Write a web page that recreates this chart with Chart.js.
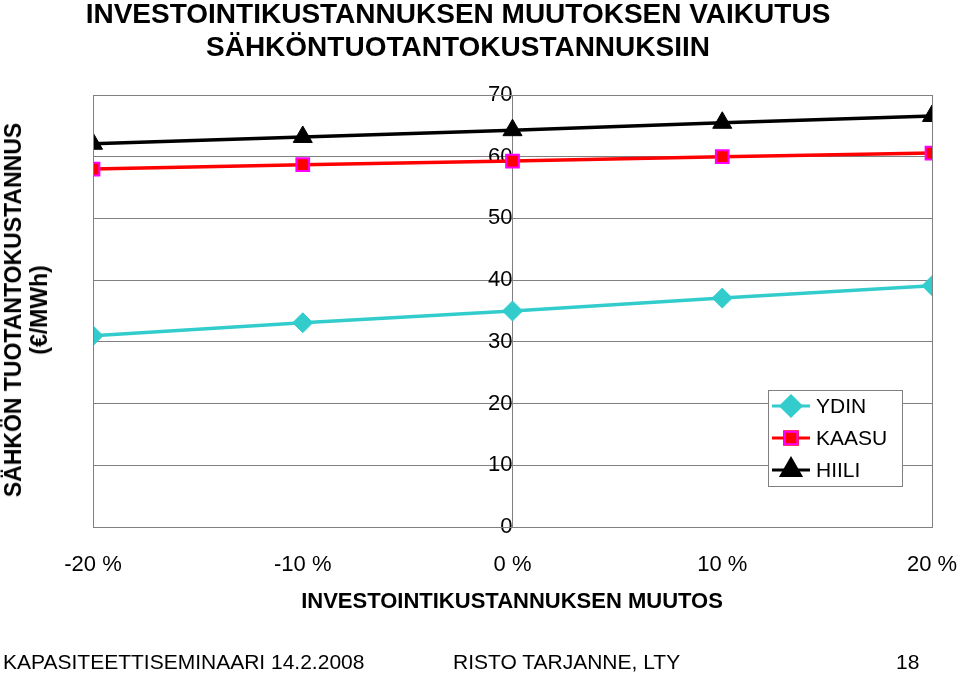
<!DOCTYPE html>
<html><head><meta charset="utf-8">
<script src="https://cdn.jsdelivr.net/npm/chart.js@4"></script>
<style>
body{margin:0;background:#fff;font-family:"Liberation Sans",Arial,sans-serif}
#wrap{position:relative;width:960px;height:674px}
.t{position:absolute;white-space:nowrap;color:#000}
</style></head><body>
<div id="wrap">
<canvas id="c" width="960" height="674"></canvas>
<div class="t" style="left:0;width:916px;top:-3px;text-align:center;font-weight:bold;font-size:28px;line-height:33px">INVESTOINTIKUSTANNUKSEN MUUTOKSEN VAIKUTUS<br>SÄHKÖNTUOTANTOKUSTANNUKSIIN</div>
<div class="t" style="left:26px;top:310px;transform:translate(-50%,-50%) rotate(-90deg);text-align:center;font-weight:bold;font-size:23px;line-height:26px">SÄHKÖN TUOTANTOKUSTANNUS<br>(€/MWh)</div>
<div class="t" style="left:512px;top:601px;transform:translate(-50%,-50%);font-weight:bold;font-size:22px">INVESTOINTIKUSTANNUKSEN MUUTOS</div>
<div class="t" style="left:3px;top:650px;font-size:21px">KAPASITEETTISEMINAARI 14.2.2008</div>
<div class="t" style="left:453px;top:650px;font-size:21px">RISTO TARJANNE, LTY</div>
<div class="t" style="left:896px;top:650px;font-size:21px">18</div>
</div>
<script>
const changes = [-20, -10, 0, 10, 20];
const ydin = [31.0, 33.1, 35.0, 37.1, 39.1];
const kaasu = [58.0, 58.7, 59.3, 60.0, 60.6];
const hiili = [62.1, 63.2, 64.3, 65.5, 66.6];
const yTicks = [0, 10, 20, 30, 40, 50, 60, 70];

const pts = vals => changes.map((x, i) => ({x: x, y: vals[i]}));
const FONT = '"Liberation Sans", Arial, sans-serif';

// plot frame + legend box
const extras = {
  id: 'extras',
  afterDraw(chart) {
    const ctx = chart.ctx, a = chart.chartArea;
    ctx.save();
    ctx.strokeStyle = '#808080'; ctx.lineWidth = 1;
    ctx.strokeRect(a.left + 0.5, a.top + 0.5, a.right - a.left, a.bottom - a.top);
    const lx = 768, ly = 390, lw = 134, lh = 96;
    ctx.fillStyle = '#fff'; ctx.fillRect(lx, ly, lw, lh);
    ctx.strokeStyle = '#808080'; ctx.strokeRect(lx + 0.5, ly + 0.5, lw, lh);
    ctx.font = '21px ' + FONT;
    ctx.textBaseline = 'middle';
    chart.data.datasets.forEach((ds, i) => {
      const y = 406 + i * 32;
      ctx.strokeStyle = ds.borderColor; ctx.lineWidth = 3;
      ctx.beginPath(); ctx.moveTo(772, y); ctx.lineTo(810, y); ctx.stroke();
      Chart.helpers.drawPoint(ctx, {pointStyle: ds.pointStyle, radius: ds.pointRadius, borderWidth: ds.pointBorderWidth}, 791, y);
      ctx.fillStyle = ds.pointBackgroundColor; ctx.strokeStyle = ds.pointBorderColor;
      ctx.lineWidth = ds.pointBorderWidth;
      ctx.fill(); ctx.stroke();
      ctx.fillStyle = '#000'; ctx.fillText(ds.label, 816, y + 1);
    });
    ctx.restore();
  }
};

new Chart(document.getElementById('c'), {
  type: 'line',
  data: {
    datasets: [
      {label: 'YDIN', data: pts(ydin), borderColor: '#33CCCC', borderWidth: 3.5,
       pointStyle: 'rectRot', pointRadius: 10, pointBackgroundColor: '#33CCCC', pointBorderColor: '#33CCCC', pointBorderWidth: 1},
      {label: 'KAASU', data: pts(kaasu), borderColor: '#FF0000', borderWidth: 3.5,
       pointStyle: 'rect', pointRadius: 9, pointBackgroundColor: '#FF0000', pointBorderColor: '#FF00FF', pointBorderWidth: 2},
      {label: 'HIILI', data: pts(hiili), borderColor: '#000000', borderWidth: 3.5,
       pointStyle: 'triangle', pointRadius: 11, pointBackgroundColor: '#000000', pointBorderColor: '#000000', pointBorderWidth: 1}
    ]
  },
  options: {
    responsive: false, animation: false,
    layout: {padding: {left: 93, right: 28, top: 95, bottom: 97}},
    plugins: {legend: {display: false}, tooltip: {enabled: false}},
    scales: {
      x: {
        type: 'linear', min: -20, max: 20,
        afterBuildTicks: s => { s.ticks = changes.map(v => ({value: v})); },
        afterFit: s => { s.height = 50; s.paddingLeft = 0; s.paddingRight = 0; },
        grid: {display: false, drawTicks: false},
        border: {color: '#808080'},
        ticks: {padding: 25, maxRotation: 0, color: '#000',
          font: {size: 22, family: FONT},
          callback: v => v + ' %'}
      },
      y: {
        position: {x: 0}, min: 0, max: 70,
        afterBuildTicks: s => { s.ticks = yTicks.map(v => ({value: v})); },
        grid: {color: '#808080', drawTicks: false},
        border: {color: '#808080'},
        ticks: {padding: 18, color: '#000', font: {size: 22, family: FONT}}
      }
    }
  },
  plugins: [extras]
});
</script>
</body></html>
